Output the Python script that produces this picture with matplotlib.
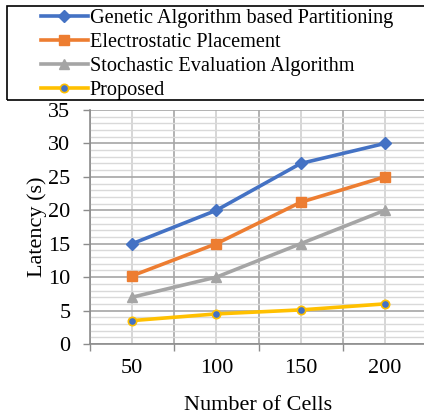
import matplotlib
matplotlib.use("Agg")
import matplotlib.pyplot as plt
from matplotlib.patches import Rectangle
from matplotlib.ticker import MultipleLocator

categories = ["50", "100", "150", "200"]
genetic = [15, 20, 27, 30]
electro = [10.2, 15, 21.2, 25]
stochastic = [7, 10, 15, 20]
proposed = [3.5, 4.5, 5.1, 6.0]
series_names = ["Genetic Algorithm based Partitioning", "Electrostatic Placement",
                "Stochastic Evaluation Algorithm", "Proposed"]

plt.rcParams['font.family'] = ['Liberation Serif', 'DejaVu Serif']

W, H = 424, 417
fig = plt.figure(figsize=(W/100, H/100), dpi=100)
ax = fig.add_axes([90/W, 1-344/H, (427-90)/W, (344-110)/H])

x = list(range(len(categories)))
lw = 2.6
ax.plot(x, genetic, color='#4472C4', lw=lw, marker='D', ms=6, label=series_names[0], zorder=5)
ax.plot(x, electro, color='#ED7D31', lw=lw, marker='s', ms=6.5, label=series_names[1], zorder=5)
ax.plot(x, stochastic, color='#A5A5A5', lw=lw, marker='^', ms=7.5, label=series_names[2], zorder=5)
ax.plot(x, proposed, color='#FFC000', lw=lw, marker='o', ms=6, mfc='#4472C4', mec='#FFC000',
        mew=1.2, label=series_names[3], zorder=5)

ax.set_xlim(-0.5, len(categories)-0.5)
ax.set_ylim(0, 35)
ax.set_xticks(x)
ax.set_xticklabels(categories)
ax.set_xticks([i-0.5 for i in range(len(categories)+1)], minor=True)
ax.yaxis.set_major_locator(MultipleLocator(5))
ax.yaxis.set_minor_locator(MultipleLocator(1))

ax.tick_params(axis='x', which='major', length=0, pad=11, labelsize=16)
ax.tick_params(axis='x', which='minor', length=5, color='#8c8c8c', width=1)
ax.tick_params(axis='y', which='major', length=5, color='#8c8c8c', width=1, pad=9, labelsize=16)
ax.tick_params(axis='y', which='minor', length=0)

ax.grid(axis='y', which='major', color='#a6a6a6', lw=1.2)
ax.grid(axis='y', which='minor', color='#d9d9d9', lw=1.0)
ax.grid(axis='x', which='minor', color='#a6a6a6', lw=1.2)
ax.grid(axis='x', which='major', color='#d0d0d0', lw=1.2)
ax.set_axisbelow(True)

for s in ['top', 'right']:
    ax.spines[s].set_visible(False)
ax.spines['left'].set_color('#8c8c8c')
ax.spines['bottom'].set_color('#8c8c8c')
ax.spines['left'].set_linewidth(1.2)
ax.spines['bottom'].set_linewidth(1.2)

ax.set_xlabel("Number of Cells", fontsize=16, labelpad=13)
ax.set_ylabel("Latency (s)", fontsize=16, labelpad=1)

fig.patches.append(Rectangle((7/W, 1-100/H), (430-7)/W, (100-6)/H, transform=fig.transFigure,
                             fill=False, edgecolor='black', lw=1.2))
leg = fig.legend(loc='upper left', bbox_to_anchor=(41/W, 1-9/H), frameon=False, fontsize=14.6,
                 handlelength=2.3, handletextpad=0.1, labelspacing=0.24, borderpad=0,
                 borderaxespad=0)

fig.savefig("out.png", dpi=100)
